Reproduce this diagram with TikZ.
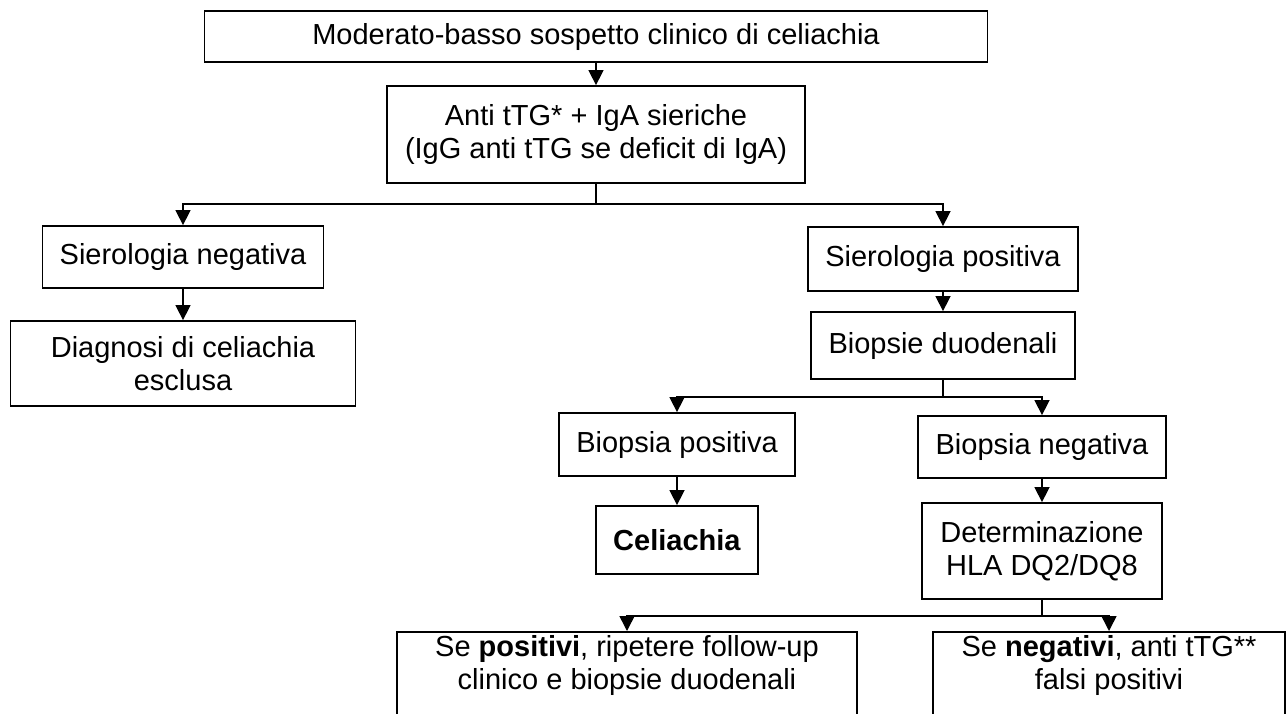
\documentclass[tikz,border=0pt]{standalone}
\usepackage{fontspec}
\setmainfont{Liberation Sans}
\usetikzlibrary{arrows.meta,positioning,calc}

\begin{document}
\begin{tikzpicture}[
    x=1pt, y=-1pt,
    font=\fontsize{29}{33}\selectfont,
    flowbox/.style={draw=black, line width=1.8pt, align=center, inner sep=4pt},
    openbox/.style={flowbox, anchor=north, text depth=100pt},
    flow/.style={-{Triangle[length=15pt, width=15pt]}, line width=1.5pt}
]

    % Cornice dell'immagine
    \useasboundingbox (0,0) rectangle (1286,713);
    \clip (0,0) rectangle (1286,713);

    % Sospetto e sierologia
    \node[flowbox, minimum width=783pt, minimum height=51pt] (sosp) at (596,36.5) {Moderato-basso sospetto clinico di celiachia};
    \node[flowbox, minimum width=418pt, minimum height=97pt] (antit) at (596,134.5) {Anti tTG* + IgA sieriche\\(IgG anti tTG se deficit di IgA)};

    % Ramo sinistro (sierologia negativa)
    \node[flowbox, minimum width=281pt, minimum height=62pt] (sierneg) at (183,257) {Sierologia negativa};
    \node[flowbox, minimum width=345pt, minimum height=85pt] (diag) at (183,363.5) {Diagnosi di celiachia\\esclusa};

    % Ramo destro (sierologia positiva)
    \node[flowbox, minimum width=270pt, minimum height=64pt] (sierpos) at (943,259) {Sierologia positiva};
    \node[flowbox, minimum width=264pt, minimum height=67pt] (biopsie) at (943,345.5) {Biopsie duodenali};
    \node[flowbox, minimum width=236pt, minimum height=63pt] (biopos) at (677,444.5) {Biopsia positiva};
    \node[flowbox, minimum width=248pt, minimum height=62pt] (bioneg) at (1042,447) {Biopsia negativa};
    \node[flowbox, minimum width=162pt, minimum height=68pt] (celia) at (677,540) {\textbf{Celiachia}};
    \node[flowbox, minimum width=240pt, minimum height=96pt] (determ) at (1042,551) {Determinazione\\HLA DQ2/DQ8};

    % Esito HLA (riquadri tagliati in basso)
    \node[openbox, minimum width=460pt] (sepos) at (627,631) {Se \textbf{positivi}, ripetere follow-up\\clinico e biopsie duodenali};
    \node[openbox, minimum width=352pt] (seneg) at (1109,631) {Se \textbf{negativi}, anti tTG**\\falsi positivi};

    % Punti di diramazione
    \coordinate (split1) at (596,204);
    \coordinate (split2) at (943,397);
    \coordinate (split3) at (1042,616);

    % Frecce
    \draw[flow] (sosp) -- (antit);
    \draw[line width=1.5pt] (antit) -- (split1);
    \draw[flow] (split1) -| (sierneg);
    \draw[flow] (split1) -| (sierpos);
    \draw[flow] (sierneg) -- (diag);
    \draw[flow] (sierpos) -- (biopsie);
    \draw[line width=1.5pt] (biopsie) -- (split2);
    \draw[flow] (split2) -| (biopos);
    \draw[flow] (split2) -| (bioneg);
    \draw[flow] (biopos) -- (celia);
    \draw[flow] (bioneg) -- (determ);
    \draw[line width=1.5pt] (determ) -- (split3);
    \draw[flow] (split3) -| (sepos);
    \draw[flow] (split3) -| (seneg);

\end{tikzpicture}
\end{document}
